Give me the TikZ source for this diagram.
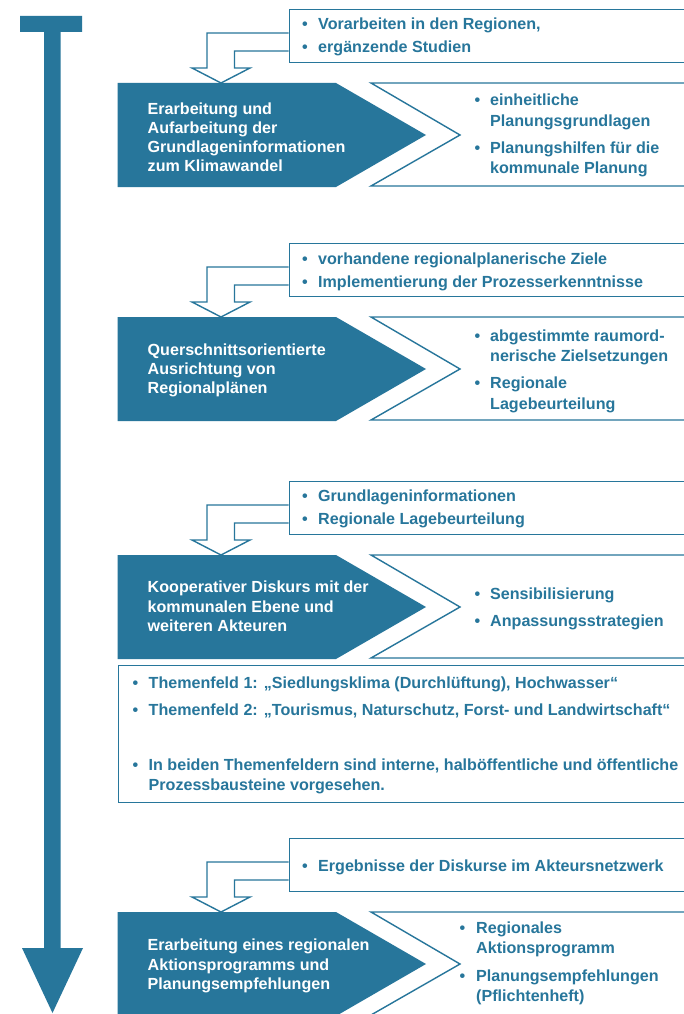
\documentclass[tikz,border=0pt]{standalone}
\usepackage{fontspec}
\setmainfont{Liberation Sans}
\definecolor{blu}{HTML}{27769B}
\tikzset{
  outl/.style={draw=blu, line width=1.4pt, fill=white, line join=miter},
  darkfill/.style={fill=blu},
  txt/.style={text=blu, font=\bfseries\fontsize{16.1}{19}\selectfont, inner sep=0pt, anchor=base west},
  wtxt/.style={txt, text=white},
  inbox/.style={outl, rectangle, minimum height=53pt, minimum width=420pt, anchor=north west, inner sep=0pt}
}
\newcommand\bt[5]{\node[txt] (#1b) at (#2,#4) {\textbullet}; \node[txt] (#1) at (#3,#4) {#5};}
\newcommand\lt[4]{\node[txt] (#1) at (#2,#3) {#4};}
\newcommand\wt[4]{\node[wtxt] (#1) at (#2,#3) {#4};}
% #1 = top of input box, #2 = prefix
\newcommand\stage[2]{%
  \coordinate (#2o1) at (288.5,{#1+24});
  \coordinate (#2o2) at (207,{#1+24});
  \coordinate (#2o3) at (207,{#1+59});
  \coordinate (#2h1) at (192,{#1+59});
  \coordinate (#2tip) at (221,{#1+74});
  \coordinate (#2h2) at (250,{#1+59});
  \coordinate (#2i3) at (234.5,{#1+59});
  \coordinate (#2i2) at (234.5,{#1+42});
  \coordinate (#2i1) at (288.5,{#1+42});
  \draw[outl] (#2o1) -- (#2o2) -- (#2o3) -- (#2h1) -- (#2tip) -- (#2h2) -- (#2i3) -- (#2i2) -- (#2i1);
  \node[inbox] (#2in) at (288.5,#1) {};
  \path[darkfill] (117.5,{#1+74}) -- (336,{#1+74}) -- (426,{#1+126}) -- (336,{#1+178}) -- (117.5,{#1+178}) -- cycle;
  \draw[outl] (720,{#1+74}) -- (371,{#1+74}) -- (460,{#1+126}) -- (371,{#1+177}) -- (720,{#1+177}) -- cycle;
}
\begin{document}
\begin{tikzpicture}[x=1pt,y=-1pt]
\clip (0,0) rectangle (684,1014);
\fill[white] (0,0) rectangle (684,1014);
% time arrow
\fill[blu] (20,16) -- (82,16) -- (82,32) -- (60.5,32) -- (60.5,948) -- (83,948) -- (52.5,1013) -- (22,948) -- (44,948) -- (44,32) -- (20,32) -- cycle;

% stage 1
\stage{9}{a}
\bt{ai1}{302}{318}{29.8}{Vorarbeiten in den Regionen,}
\bt{ai2}{302}{318}{52.8}{ergänzende Studien}
\wt{ad1}{147.5}{114}{Erarbeitung und}
\wt{ad2}{147.5}{133.3}{Aufarbeitung der}
\wt{ad3}{147.5}{152.6}{Grundlageninformationen}
\wt{ad4}{147.5}{171.9}{zum Klimawandel}
\bt{ao1}{474.5}{490}{105.5}{einheitliche}
\lt{ao2}{490}{126.3}{Planungsgrundlagen}
\bt{ao3}{474.5}{490}{153.3}{Planungshilfen für die}
\lt{ao4}{490}{173.8}{kommunale Planung}

% stage 2
\stage{243}{b}
\bt{bi1}{302}{318}{264.5}{vorhandene regionalplanerische Ziele}
\bt{bi2}{302}{318}{287.5}{Implementierung der Prozesserkenntnisse}
\wt{bd1}{147.5}{355.5}{Querschnittsorientierte}
\wt{bd2}{147.5}{374.5}{Ausrichtung von}
\wt{bd3}{147.5}{393}{Regionalplänen}
\bt{bo1}{474.5}{490}{341.5}{abgestimmte raumord-}
\lt{bo2}{490}{361.5}{nerische Zielsetzungen}
\bt{bo3}{474.5}{490}{388.5}{Regionale}
\lt{bo4}{490}{409.5}{Lagebeurteilung}

% stage 3
\stage{481}{c}
\bt{ci1}{302}{318}{501.5}{Grundlageninformationen}
\bt{ci2}{302}{318}{524.5}{Regionale Lagebeurteilung}
\wt{cd1}{147.5}{592.5}{Kooperativer Diskurs mit der}
\wt{cd2}{147.5}{612}{kommunalen Ebene und}
\wt{cd3}{147.5}{631}{weiteren Akteuren}
\bt{co1}{474.5}{490}{599.5}{Sensibilisierung}
\bt{co2}{474.5}{490}{626.5}{Anpassungsstrategien}

% Themenfelder
\node[outl, rectangle, anchor=north west, minimum width=600pt, minimum height=137pt, inner sep=0pt] (themen) at (117.5,665) {};
\bt{t1}{132.5}{148.5}{688.5}{Themenfeld 1: „Siedlungsklima (Durchlüftung), Hochwasser“}
\bt{t2}{132.5}{148.5}{715.5}{Themenfeld 2: „Tourismus, Naturschutz, Forst- und Landwirtschaft“}
\bt{t3}{132.5}{148.5}{770.5}{In beiden Themenfeldern sind interne, halböffentliche und öffentliche}
\lt{t4}{148.5}{790.5}{Prozessbausteine vorgesehen.}

% stage 4
\stage{838}{d}
\bt{di1}{302}{318}{871.5}{Ergebnisse der Diskurse im Akteursnetzwerk}
\wt{dd1}{147.5}{950.5}{Erarbeitung eines regionalen}
\wt{dd2}{147.5}{970}{Aktionsprogramms und}
\wt{dd3}{147.5}{989.5}{Planungsempfehlungen}
\bt{do1}{459.5}{476}{933.5}{Regionales}
\lt{do2}{476}{953.5}{Aktionsprogramm}
\bt{do3}{459.5}{476}{981.5}{Planungsempfehlungen}
\lt{do4}{476}{1001.5}{(Pflichtenheft)}
\end{tikzpicture}
\end{document}
